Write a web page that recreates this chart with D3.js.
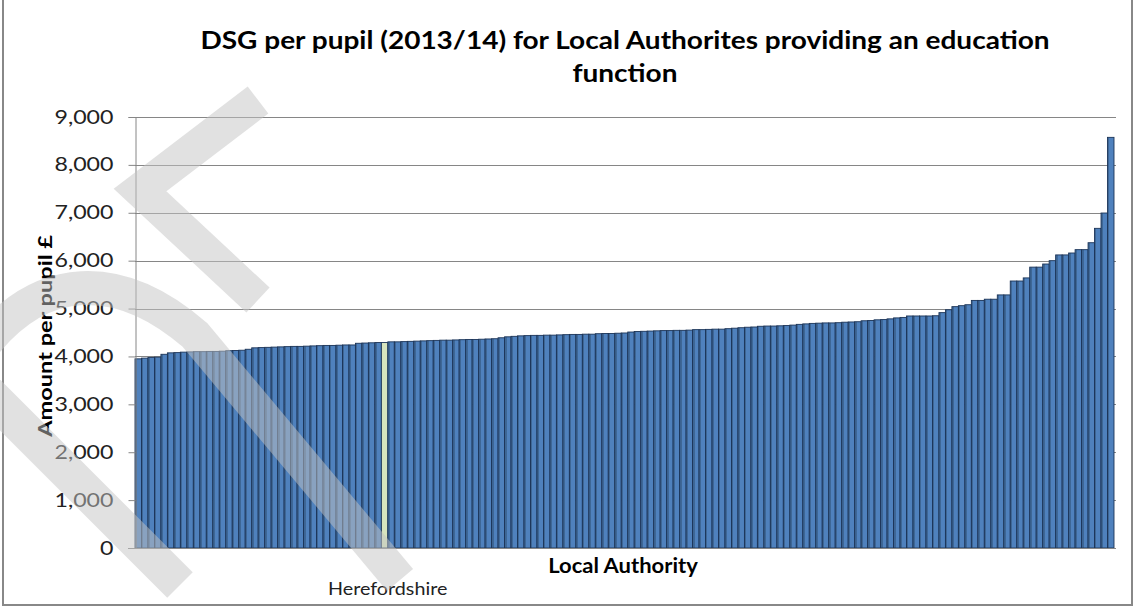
<!DOCTYPE html>
<html>
<head>
<meta charset="utf-8">
<script src="https://cdn.jsdelivr.net/npm/d3@7"></script>
<style>
html,body{margin:0;padding:0;background:#fff;}
svg{display:block;}
text{font-family:Lato,"Open Sans",sans-serif;}
</style>
</head>
<body>
<svg id="chart" width="1135" height="608"></svg>
<script>
// ---- data ----
const titleLines = ["DSG per pupil (2013/14) for Local Authorites providing an education", "function"];
const yTicks = [0,1000,2000,3000,4000,5000,6000,7000,8000,9000];
const highlightName = "Herefordshire";
const highlightIndex = 38;
const values = [
 3950,3965,3980,3985,4045,4075,4080,4090,4095,4100,
 4100,4105,4105,4110,4120,4125,4130,4150,4180,4185,
 4190,4195,4200,4205,4210,4210,4215,4220,4225,4230,
 4230,4235,4240,4240,4275,4280,4285,4290,4290,4305,
 4305,4310,4315,4320,4325,4330,4335,4340,4340,4345,
 4350,4355,4355,4360,4365,4370,4390,4410,4420,4430,
 4435,4440,4440,4445,4445,4450,4455,4460,4460,4465,
 4465,4475,4480,4480,4485,4490,4510,4520,4525,4530,
 4535,4540,4540,4545,4545,4550,4560,4560,4565,4570,
 4570,4580,4590,4600,4610,4615,4630,4635,4635,4640,
 4645,4655,4670,4680,4690,4695,4700,4700,4705,4715,
 4720,4725,4745,4750,4765,4770,4785,4805,4815,4845,
 4845,4845,4845,4850,4915,4975,5040,5060,5080,5170,
 5170,5195,5195,5285,5285,5575,5575,5640,5865,5865,
 5930,6000,6120,6120,6160,6230,6230,6375,6675,6995,
 8575
];
const authorities = values.map((v,i)=> i===highlightIndex ? highlightName : "LA " + (i+1));

// ---- layout ----
const svg = d3.select("#chart");
const L = 135, R = 1114, T = 117, B = 548;

const x = d3.scaleBand().domain(d3.range(values.length)).range([L, R]).padding(0);
const y = d3.scaleLinear().domain([0, 9000]).range([B, T]);

// stretch text horizontally (reference font is wider than available fonts)
function stretch(sel, k){
  sel.each(function(){
    const w = this.getComputedTextLength();
    d3.select(this).attr("textLength", w*k).attr("lengthAdjust","spacingAndGlyphs");
  });
}

// gradient to mimic Excel bar shading
const defs = svg.append("defs");
const g1 = defs.append("linearGradient").attr("id","barGrad").attr("x1","0").attr("x2","1").attr("y1","0").attr("y2","0");
g1.append("stop").attr("offset","0%").attr("stop-color","#3e6796");
g1.append("stop").attr("offset","30%").attr("stop-color","#3e6796");
g1.append("stop").attr("offset","30%").attr("stop-color","#4f81bd");
g1.append("stop").attr("offset","100%").attr("stop-color","#4f81bd");

// outer border
svg.append("rect").attr("x",3).attr("y",-3).attr("width",1129).attr("height",608)
  .attr("fill","none").attr("stroke","#888").attr("stroke-width",2);

// gridlines
svg.append("g").selectAll("line").data(yTicks.filter(d=>d>0)).join("line")
  .attr("x1",L).attr("x2",R+2).attr("y1",d=>Math.round(y(d))+0.5).attr("y2",d=>Math.round(y(d))+0.5)
  .attr("stroke","#868686").attr("stroke-width",1);

// bars
svg.append("g").selectAll("rect").data(values).join("rect")
  .attr("x",(d,i)=>x(i)).attr("width",x.bandwidth())
  .attr("y",d=>y(d)).attr("height",d=>B - y(d))
  .attr("fill",(d,i)=> i===highlightIndex ? "#d7e4bd" : "url(#barGrad)")
  .attr("stroke","#1b3458").attr("stroke-width",0.9);

// y axis
const yAxis = d3.axisLeft(y).tickValues(yTicks).tickSize(7).tickPadding(15)
  .tickFormat(d3.format(","));
const ya = svg.append("g").attr("transform",`translate(${L+0.5},0)`).call(yAxis);
ya.select(".domain").attr("stroke","#868686");
ya.selectAll(".tick line").attr("stroke","#868686");
ya.selectAll(".tick text").attr("fill","#222").style("font-size","19px").style("font-family","Lato,sans-serif");
stretch(ya.selectAll(".tick text"), 1.22);

// x axis line
svg.append("line").attr("x1",L-7).attr("x2",R+2).attr("y1",B+0.5).attr("y2",B+0.5).attr("stroke","#868686");

// titles
const tt = svg.append("g").selectAll("text").data(titleLines).join("text")
  .attr("x",625).attr("y",(d,i)=>49 + i*33).attr("text-anchor","middle")
  .style("font-size","25px").style("font-weight","bold").attr("fill","#000").text(d=>d);
stretch(tt, 1.12);

const yt = svg.append("text").attr("transform","translate(52,336) rotate(-90)").attr("text-anchor","middle")
  .style("font-size","19px").style("font-weight","bold").text("Amount per pupil £");
stretch(yt, 1.24);

const xt = svg.append("text").attr("x",623).attr("y",573).attr("text-anchor","middle")
  .style("font-size","20px").style("font-weight","bold").text("Local Authority");
stretch(xt, 1.1);

const ht = svg.append("text").attr("x",328).attr("y",595)
  .style("font-size","17px").attr("fill","#222").text(highlightName);
stretch(ht, 1.16);

// watermark (DRAFT-like shapes)
const wm = svg.append("g").attr("fill","none").attr("stroke","#c4c4c4").attr("stroke-opacity",0.5).attr("stroke-linejoin","miter");
wm.append("path").attr("d","M258,100 L140,190 L258,300").attr("stroke-width",34);
wm.append("path").attr("d","M-20,350 C40,270 120,270 195,335 L400,580").attr("stroke-width",34);
wm.append("path").attr("d","M-20,385 L180,585").attr("stroke-width",36);
</script>
</body>
</html>
